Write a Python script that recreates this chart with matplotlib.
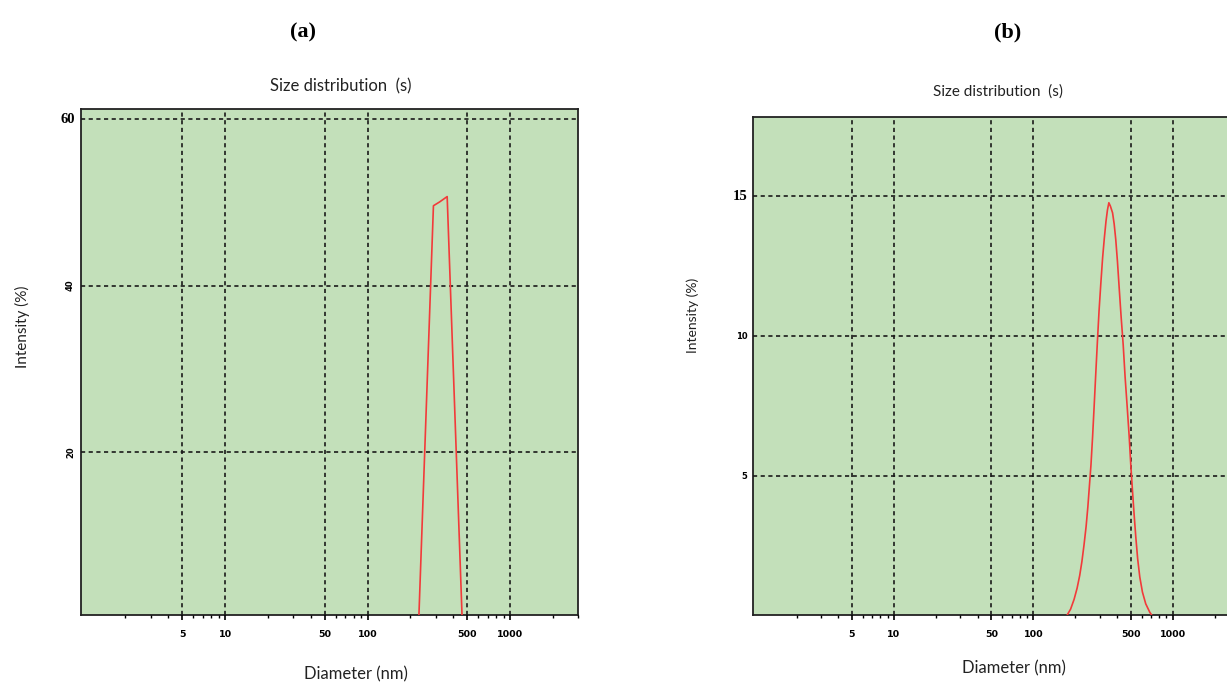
import matplotlib
matplotlib.use("Agg")
import matplotlib.pyplot as plt
from matplotlib.ticker import LogLocator, NullFormatter, FixedLocator
import matplotlib.transforms as mtransforms

# ---------------- data ----------------
diam_a = [229, 290, 320, 362, 461]
inten_a = [0, 49.6, 50.05, 50.7, 0]

diam_b = [173, 185, 196, 206, 215, 223, 231, 239, 246, 252, 259, 266, 273, 280,
          288, 296, 305, 314, 323, 332, 340, 348, 357, 370, 380, 390, 401, 412,
          426, 441, 455, 471, 487, 500, 513, 527, 543, 560, 580, 606, 640, 684,
          715]
inten_b = [0, 0.25, 0.6, 1.0, 1.45, 1.95, 2.55, 3.2, 3.9, 4.6, 5.4, 6.4, 7.5,
           8.6, 9.8, 10.9, 11.9, 12.8, 13.5, 14.1, 14.5, 14.76, 14.64, 14.4,
           14.0, 13.45, 12.67, 11.78, 10.70, 9.69, 8.55, 7.48, 6.41, 5.4, 4.55,
           3.7, 2.83, 2.05, 1.40, 0.86, 0.44, 0.14, 0]

x_ticks = [5, 10, 50, 100, 500, 1000]
x_tick_labels = ["5", "10", "50", "100", "500", "1000"]
y_ticks_a = [20, 40, 60]
y_ticks_b = [5, 10, 15]

panel_labels = ["(a)", "(b)"]
title_text = "Size distribution  (s)"
xlabel_text = "Diameter (nm)"
ylabel_text = "Intensity (%)"

# ---------------- style ----------------
BG = "#c3e0ba"
RED = "#f23a3a"
GRID_LS = (0, (2.5, 2.1))

fig = plt.figure(figsize=(12.27, 6.82), dpi=100)

ax_a = fig.add_axes([0.0660, 0.0982, 0.4051, 0.7415])
ax_b = fig.add_axes([0.6137, 0.0982, 0.3963, 0.7306])


def style_axes(ax, yticks, ylim, small_rot):
    ax.set_facecolor(BG)
    ax.set_xscale("log")
    ax.set_xlim(0.975, 3000)
    ax.set_ylim(*ylim)
    ax.xaxis.set_major_locator(FixedLocator(x_ticks))
    ax.set_xticklabels(x_tick_labels, fontsize=6.8, fontweight="bold",
                       family="DejaVu Sans")
    ax.xaxis.set_minor_locator(LogLocator(base=10, subs=range(2, 10)))
    ax.xaxis.set_minor_formatter(NullFormatter())
    ax.tick_params(axis="x", which="major", direction="out", length=3.5,
                   width=1.2, pad=7, colors="black")
    ax.tick_params(axis="x", which="minor", direction="out", length=2,
                   width=1.0)
    ax.set_yticks(yticks)
    ax.set_yticklabels([])
    ax.tick_params(axis="y", length=0)
    for s in ax.spines.values():
        s.set_linewidth(1.3)
        s.set_color("#222222")
    ax.grid(True, which="major", axis="both", color="#1a1a1a",
            linestyle=GRID_LS, linewidth=1.2)
    ax.set_axisbelow(False)
    trans = mtransforms.blended_transform_factory(ax.transAxes, ax.transData)
    for i, v in enumerate(yticks):
        if i == len(yticks) - 1:
            ax.text(-0.012, v, str(v), transform=trans, ha="right",
                    va="center", fontsize=10.5, fontweight="bold",
                    family="Liberation Serif")
        else:
            ax.text(-0.012, v, str(v), transform=trans, ha="right",
                    va="center", fontsize=6, fontweight="bold",
                    family="DejaVu Sans", rotation=small_rot)


style_axes(ax_a, y_ticks_a, (0.35, 61.2), 90)
style_axes(ax_b, y_ticks_b, (0.04, 17.83), 0)

ax_a.plot(diam_a, inten_a, color=RED, linewidth=1.2, zorder=3)
ax_b.plot(diam_b, inten_b, color=RED, linewidth=1.2, zorder=3)

# titles
ax_a.set_title(title_text, fontsize=12, family="Lato", pad=13, x=0.523,
               color="#222222")
ax_b.set_title(title_text, fontsize=11, family="Lato", pad=15, x=0.503,
               color="#222222")

# axis labels
ax_a.set_xlabel(xlabel_text, fontsize=12, family="Lato", color="#222222")
ax_a.xaxis.set_label_coords(0.553, -0.102)
ax_b.set_xlabel(xlabel_text, fontsize=12, family="Lato", color="#222222")
ax_b.xaxis.set_label_coords(0.536, -0.090)

ax_a.set_ylabel(ylabel_text, fontsize=11, family="Lato", color="#222222")
ax_a.yaxis.set_label_coords(-0.103, 0.570)
ax_b.set_ylabel(ylabel_text, fontsize=10, family="Lato", color="#222222")
ax_b.yaxis.set_label_coords(-0.111, 0.602)

# panel labels
fig.text(303 / 1227, 1 - 32 / 682, panel_labels[0], fontsize=16,
         fontweight="bold", family="Liberation Serif", ha="center",
         va="center")
fig.text(1008 / 1227, 1 - 32 / 682, panel_labels[1], fontsize=16,
         fontweight="bold", family="Liberation Serif", ha="center",
         va="center")

fig.savefig("out.png", dpi=100)
